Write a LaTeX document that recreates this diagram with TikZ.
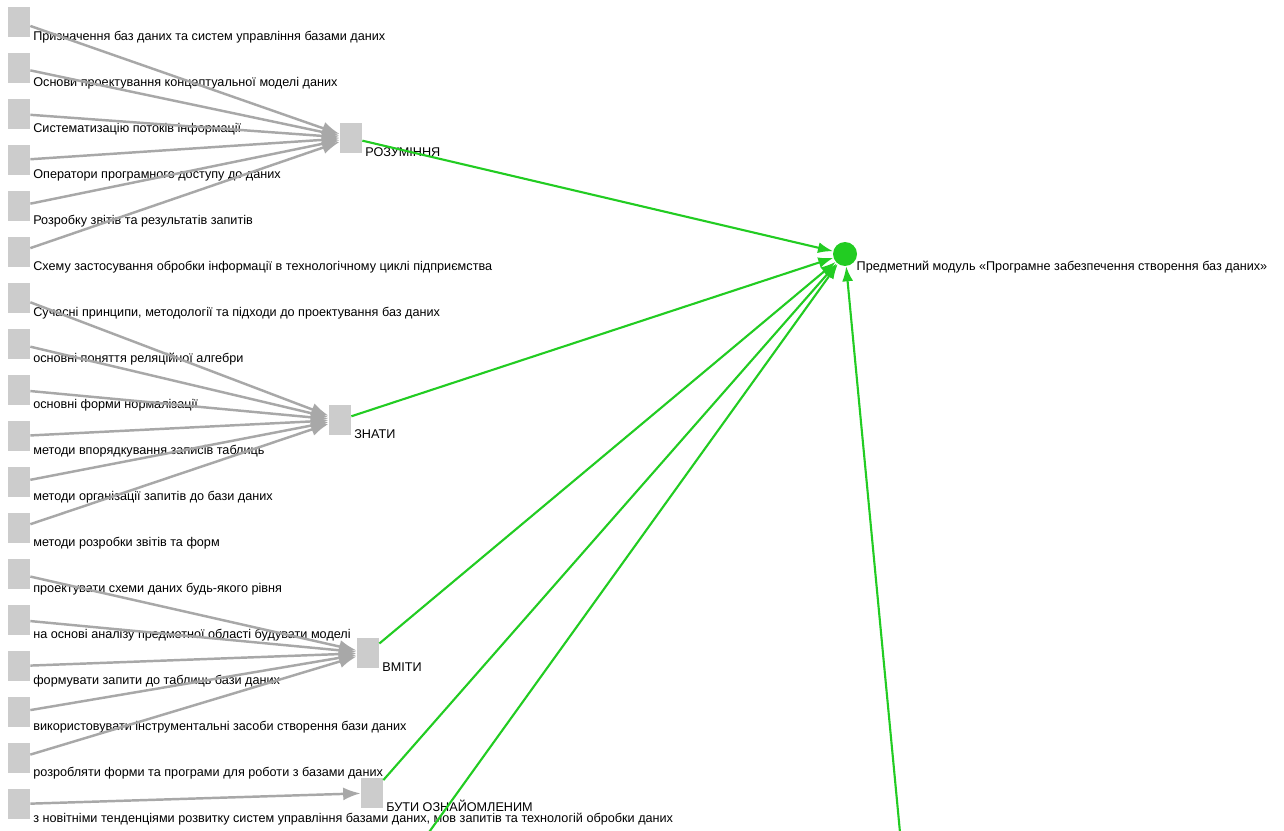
\documentclass[tikz,border=0pt]{standalone}
\usepackage{fontspec}
\setmainfont{Liberation Sans}
\usepackage{tikz}
\usetikzlibrary{arrows.meta, positioning}
\definecolor{nodegray}{HTML}{CCCCCC}
\definecolor{edgegray}{HTML}{A8A8A8}
\definecolor{linkgreen}{HTML}{22CC22}

\begin{document}
\begin{tikzpicture}[x=0.02cm, y=-0.02cm,
    sq/.style={rectangle, fill=nodegray, minimum width=4.4mm, minimum height=6mm, inner sep=0pt},
    core/.style={circle, fill=linkgreen, minimum size=4.8mm, inner sep=0pt},
    lbl/.style={anchor=west, inner sep=0pt, xshift=1.5pt, font=\fontsize{7.2}{8}\selectfont},
    feed/.style={-{Latex[length=3.5mm, width=2.6mm]}, line width=1.4pt, color=edgegray},
    link/.style={-{Latex[length=3mm, width=2.2mm]}, line width=1.2pt, color=linkgreen}
]
\clip (0,0) rectangle (1284,831);
\fill[white] (0,0) rectangle (1284,831);

% centre and groups
\node[core] (module) at (845,254) {};
\node[lbl, yshift=-2.3pt] (moduletxt) at (module.south east) {Предметний модуль «Програмне забезпечення створення баз даних»};

\node[sq] (rozum) at (351,138) {};
\node[sq] (znaty) at (340,420) {};
\node[sq] (vmity) at (368,653) {};
\node[sq] (buty) at (372,793) {};
\node[lbl, yshift=0.6pt] (rozumtxt) at (rozum.south east) {РОЗУМІННЯ};
\node[lbl, yshift=0.6pt] (znatytxt) at (znaty.south east) {ЗНАТИ};
\node[lbl, yshift=0.6pt] (vmitytxt) at (vmity.south east) {ВМІТИ};
\node[lbl, yshift=1.2pt] (butytxt) at (buty.south east) {БУТИ ОЗНАЙОМЛЕНИМ};
\coordinate (extraA) at (391,885);
\coordinate (extraB) at (905,885);

% items
\node[sq] (s1) at (19,22) {};
\node[sq] (s2) at (19,68) {};
\node[sq] (s3) at (19,114) {};
\node[sq] (s4) at (19,160) {};
\node[sq] (s5) at (19,206) {};
\node[sq] (s6) at (19,252) {};
\node[sq] (s7) at (19,298) {};
\node[sq] (s8) at (19,344) {};
\node[sq] (s9) at (19,390) {};
\node[sq] (s10) at (19,436) {};
\node[sq] (s11) at (19,482) {};
\node[sq] (s12) at (19,528) {};
\node[sq] (s13) at (19,574) {};
\node[sq] (s14) at (19,620) {};
\node[sq] (s15) at (19,666) {};
\node[sq] (s16) at (19,712) {};
\node[sq] (s17) at (19,758) {};
\node[sq] (s18) at (19,804) {};

\node[lbl] (t1) at (s1.south east) {Призначення баз даних та систем управління базами даних};
\node[lbl] (t2) at (s2.south east) {Основи проектування концептуальної моделі даних};
\node[lbl] (t3) at (s3.south east) {Систематизацію потоків інформації};
\node[lbl] (t4) at (s4.south east) {Оператори програмного доступу до даних};
\node[lbl] (t5) at (s5.south east) {Розробку звітів та результатів запитів};
\node[lbl] (t6) at (s6.south east) {Схему застосування обробки інформації в технологічному циклі підприємства};
\node[lbl] (t7) at (s7.south east) {Сучасні принципи, методології та підходи до проектування баз даних};
\node[lbl] (t8) at (s8.south east) {основні поняття реляційної алгебри};
\node[lbl] (t9) at (s9.south east) {основні форми нормалізації};
\node[lbl] (t10) at (s10.south east) {методи впорядкування записів таблиць};
\node[lbl] (t11) at (s11.south east) {методи організації запитів до бази даних};
\node[lbl] (t12) at (s12.south east) {методи розробки звітів та форм};
\node[lbl] (t13) at (s13.south east) {проектувати схеми даних будь-якого рівня};
\node[lbl] (t14) at (s14.south east) {на основі аналізу предметної області будувати моделі};
\node[lbl] (t15) at (s15.south east) {формувати запити до таблиць бази даних};
\node[lbl] (t16) at (s16.south east) {використовувати інструментальні засоби створення бази даних};
\node[lbl] (t17) at (s17.south east) {розробляти форми та програми для роботи з базами даних};
\node[lbl] (t18) at (s18.south east) {з новітніми тенденціями розвитку систем управління базами даних, мов запитів та технологій обробки даних};

\draw[feed] (s1) -- (rozum);
\draw[feed] (s2) -- (rozum);
\draw[feed] (s3) -- (rozum);
\draw[feed] (s4) -- (rozum);
\draw[feed] (s5) -- (rozum);
\draw[feed] (s6) -- (rozum);
\draw[feed] (s7) -- (znaty);
\draw[feed] (s8) -- (znaty);
\draw[feed] (s9) -- (znaty);
\draw[feed] (s10) -- (znaty);
\draw[feed] (s11) -- (znaty);
\draw[feed] (s12) -- (znaty);
\draw[feed] (s13) -- (vmity);
\draw[feed] (s14) -- (vmity);
\draw[feed] (s15) -- (vmity);
\draw[feed] (s16) -- (vmity);
\draw[feed] (s17) -- (vmity);
\draw[feed] (s18) -- (buty);

\draw[link] (rozum) -- (module);
\draw[link] (znaty) -- (module);
\draw[link] (vmity) -- (module);
\draw[link] (buty) -- (module);
\draw[link] (extraA) -- (module);
\draw[link] (extraB) -- (module);

\end{tikzpicture}
\end{document}
